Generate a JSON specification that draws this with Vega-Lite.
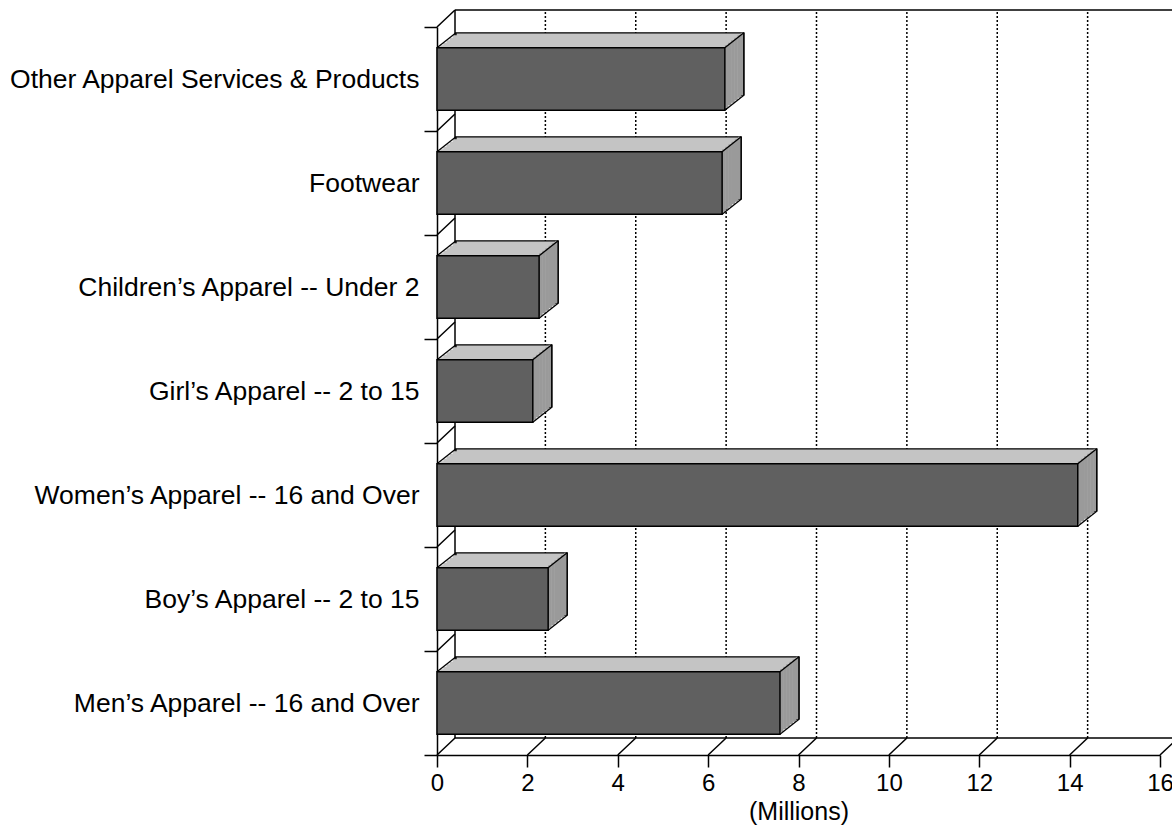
{
  "$schema": "https://vega.github.io/schema/vega-lite/v6.json",
  "width": 723,
  "height": 728,
  "autosize": {"type": "none"},
  "padding": {"left": 437, "top": 27, "right": 12, "bottom": 78},
  "background": "white",
  "config": {"view": {"stroke": null}, "font": "Liberation Sans"},
  "datasets": {
    "bars": [
      {"category": "Other Apparel Services & Products", "value": 6.37},
      {"category": "Footwear", "value": 6.31},
      {"category": "Children’s Apparel -- Under 2", "value": 2.26},
      {"category": "Girl’s Apparel -- 2 to 15", "value": 2.12},
      {"category": "Women’s Apparel -- 16 and Over", "value": 14.18},
      {"category": "Boy’s Apparel -- 2 to 15", "value": 2.46},
      {"category": "Men’s Apparel -- 16 and Over", "value": 7.59}
    ],
    "ticks": [{"v": 0}, {"v": 2}, {"v": 4}, {"v": 6}, {"v": 8}, {"v": 10}, {"v": 12}, {"v": 14}, {"v": 16}]
  },
  "data": {"name": "bars"},
  "layer": [
    {
      "data": {"name": "ticks"},
      "transform": [{"joinaggregate": [{"op": "missing", "field": "v", "as": "zero"}, {"op": "distinct", "field": "v", "as": "top"}]}],
      "layer": [
        {
          "transform": [{"filter": "datum.v > 0 && datum.v < 16"}],
          "mark": {"type": "rule", "color": "black", "strokeWidth": 1.5, "strokeDash": [2, 2], "xOffset": 18, "x2Offset": 18, "yOffset": -17, "y2Offset": -17},
          "encoding": {
            "x": {"field": "v", "type": "quantitative"},
            "y": {"field": "zero", "type": "quantitative", "scale": {"domain": [0, 9]}, "axis": null},
            "y2": {"field": "top"}
          }
        },
        {
          "transform": [{"filter": "datum.v == 0"}],
          "mark": {"type": "rule", "color": "black", "strokeWidth": 1.5, "xOffset": 18, "x2Offset": 18, "yOffset": -17, "y2Offset": -17},
          "encoding": {
            "x": {"field": "v", "type": "quantitative"},
            "y": {"field": "zero", "type": "quantitative", "scale": {"domain": [0, 9]}, "axis": null},
            "y2": {"field": "top"}
          }
        },
        {
          "mark": {"type": "rule", "color": "black", "strokeWidth": 1.5, "x2Offset": 18, "y2Offset": -17},
          "encoding": {
            "x": {"field": "v", "type": "quantitative"},
            "x2": {"field": "v"},
            "y": {"field": "zero", "type": "quantitative", "scale": {"domain": [0, 9]}, "axis": null},
            "y2": {"field": "zero"}
          }
        },
        {
          "mark": {"type": "rule", "color": "black", "strokeWidth": 1.5, "xOffset": 18, "x2Offset": 18, "yOffset": -17},
          "encoding": {
            "x": {"aggregate": "min", "field": "v", "type": "quantitative"},
            "x2": {"aggregate": "max", "field": "v"},
            "y": {"aggregate": "min", "field": "zero", "type": "quantitative", "scale": {"domain": [0, 9]}, "axis": null}
          }
        },
        {
          "mark": {"type": "rule", "color": "black", "strokeWidth": 1.5, "xOffset": 18, "x2Offset": 18, "yOffset": -17},
          "encoding": {
            "x": {"aggregate": "min", "field": "v", "type": "quantitative"},
            "x2": {"aggregate": "max", "field": "v"},
            "y": {"aggregate": "max", "field": "top", "type": "quantitative", "scale": {"domain": [0, 9]}, "axis": null}
          }
        }
      ]
    },
    {
      "layer": [
        {
          "transform": [{"joinaggregate": [{"op": "missing", "field": "value", "as": "zero"}]}],
          "mark": {"type": "rule", "color": "black", "strokeWidth": 1.5, "x2Offset": 18, "y2Offset": -17},
          "encoding": {
            "x": {"field": "zero", "type": "quantitative"},
            "x2": {"field": "zero"},
            "y": {"field": "category", "type": "nominal", "sort": null, "bandPosition": 0},
            "y2": {"field": "category", "bandPosition": 0}
          }
        },
        {"mark": {"type": "bar", "height": {"band": 0.6}, "fill": "#c4c4c4", "stroke": "black", "strokeWidth": 1.3, "xOffset": 19, "x2Offset": 19, "yOffset": -15, "y2Offset": -15},
         "encoding": {"x": {"field": "value", "type": "quantitative"}, "y": {"field": "category", "type": "nominal", "sort": null}}},
        {"mark": {"type": "bar", "height": {"band": 0.6}, "fill": "#c4c4c4", "xOffset": 3.1667, "x2Offset": 3.1667, "yOffset": -2.5, "y2Offset": -2.5},
         "encoding": {"x": {"field": "value", "type": "quantitative"}, "y": {"field": "category", "type": "nominal", "sort": null}}},
        {"mark": {"type": "bar", "height": {"band": 0.6}, "fill": "#c4c4c4", "xOffset": 6.3333, "x2Offset": 6.3333, "yOffset": -5, "y2Offset": -5},
         "encoding": {"x": {"field": "value", "type": "quantitative"}, "y": {"field": "category", "type": "nominal", "sort": null}}},
        {"mark": {"type": "bar", "height": {"band": 0.6}, "fill": "#c4c4c4", "xOffset": 9.5, "x2Offset": 9.5, "yOffset": -7.5, "y2Offset": -7.5},
         "encoding": {"x": {"field": "value", "type": "quantitative"}, "y": {"field": "category", "type": "nominal", "sort": null}}},
        {"mark": {"type": "bar", "height": {"band": 0.6}, "fill": "#c4c4c4", "xOffset": 12.6667, "x2Offset": 12.6667, "yOffset": -10, "y2Offset": -10},
         "encoding": {"x": {"field": "value", "type": "quantitative"}, "y": {"field": "category", "type": "nominal", "sort": null}}},
        {"mark": {"type": "bar", "height": {"band": 0.6}, "fill": "#c4c4c4", "xOffset": 15.8333, "x2Offset": 15.8333, "yOffset": -12.5, "y2Offset": -12.5},
         "encoding": {"x": {"field": "value", "type": "quantitative"}, "y": {"field": "category", "type": "nominal", "sort": null}}},
        {"mark": {"type": "bar", "height": {"band": 0.6}, "fill": "#9a9a9a", "xOffset": 0, "x2Offset": 3.4, "yOffset": -2.5, "y2Offset": -2.5},
         "encoding": {"x": {"field": "value", "type": "quantitative"}, "x2": {"field": "value"}, "y": {"field": "category", "type": "nominal", "sort": null}}},
        {"mark": {"type": "bar", "height": {"band": 0.6}, "fill": "#9a9a9a", "xOffset": 3.1667, "x2Offset": 6.6, "yOffset": -5, "y2Offset": -5},
         "encoding": {"x": {"field": "value", "type": "quantitative"}, "x2": {"field": "value"}, "y": {"field": "category", "type": "nominal", "sort": null}}},
        {"mark": {"type": "bar", "height": {"band": 0.6}, "fill": "#9a9a9a", "xOffset": 6.3333, "x2Offset": 9.8, "yOffset": -7.5, "y2Offset": -7.5},
         "encoding": {"x": {"field": "value", "type": "quantitative"}, "x2": {"field": "value"}, "y": {"field": "category", "type": "nominal", "sort": null}}},
        {"mark": {"type": "bar", "height": {"band": 0.6}, "fill": "#9a9a9a", "xOffset": 9.5, "x2Offset": 12.9, "yOffset": -10, "y2Offset": -10},
         "encoding": {"x": {"field": "value", "type": "quantitative"}, "x2": {"field": "value"}, "y": {"field": "category", "type": "nominal", "sort": null}}},
        {"mark": {"type": "bar", "height": {"band": 0.6}, "fill": "#9a9a9a", "xOffset": 12.6667, "x2Offset": 16.1, "yOffset": -12.5, "y2Offset": -12.5},
         "encoding": {"x": {"field": "value", "type": "quantitative"}, "x2": {"field": "value"}, "y": {"field": "category", "type": "nominal", "sort": null}}},
        {"mark": {"type": "bar", "height": {"band": 0.6}, "fill": "#9a9a9a", "xOffset": 15.8333, "x2Offset": 18.4, "yOffset": -15, "y2Offset": -15},
         "encoding": {"x": {"field": "value", "type": "quantitative"}, "x2": {"field": "value"}, "y": {"field": "category", "type": "nominal", "sort": null}}},
        {"mark": {"type": "rule", "color": "black", "strokeWidth": 1.3, "xOffset": 19, "yOffset": -15, "y2Offset": -15},
         "encoding": {"x": {"field": "value", "type": "quantitative"}, "y": {"field": "category", "type": "nominal", "sort": null, "bandPosition": 0.2}, "y2": {"field": "category", "bandPosition": 0.8}}},
        {"mark": {"type": "rule", "color": "black", "strokeWidth": 1.3, "x2Offset": 19, "y2Offset": -15},
         "encoding": {"x": {"field": "value", "type": "quantitative"}, "x2": {"field": "value"}, "y": {"field": "category", "type": "nominal", "sort": null, "bandPosition": 0.2}, "y2": {"field": "category", "bandPosition": 0.2}}},
        {"mark": {"type": "rule", "color": "black", "strokeWidth": 1.3, "x2Offset": 19, "y2Offset": -15},
         "encoding": {"x": {"field": "value", "type": "quantitative"}, "x2": {"field": "value"}, "y": {"field": "category", "type": "nominal", "sort": null, "bandPosition": 0.8}, "y2": {"field": "category", "bandPosition": 0.8}}},
        {
          "transform": [{"joinaggregate": [{"op": "missing", "field": "value", "as": "zero"}]}],
          "mark": {"type": "rule", "color": "black", "strokeWidth": 1.3, "x2Offset": 19, "y2Offset": -15},
          "encoding": {
            "x": {"field": "zero", "type": "quantitative"},
            "x2": {"field": "zero"},
            "y": {"field": "category", "type": "nominal", "sort": null, "bandPosition": 0.2},
            "y2": {"field": "category", "bandPosition": 0.2}
          }
        },
        {"mark": {"type": "bar", "height": {"band": 0.6}, "fill": "#606060", "stroke": "black", "strokeWidth": 1.5},
         "encoding": {
           "x": {"field": "value", "type": "quantitative",
                 "scale": {"domain": [0, 16], "nice": false},
                 "axis": {"orient": "bottom", "values": [0, 2, 4, 6, 8, 10, 12, 14, 16], "grid": false, "tickSize": 12, "tickWidth": 1.5, "tickColor": "black", "domainColor": "black", "domainWidth": 1.5, "labelFontSize": 24, "labelFont": "Liberation Sans", "labelColor": "black", "labelPadding": 4, "labelFlush": false, "title": "(Millions)", "titleFontSize": 25, "titleFont": "Liberation Sans", "titleFontWeight": "normal", "titleColor": "black", "titlePadding": 4}},
           "y": {"field": "category", "type": "nominal", "sort": null,
                 "scale": {"paddingInner": 0, "paddingOuter": 0},
                 "axis": {"orient": "left", "title": null, "tickBand": "extent", "tickSize": 13, "tickWidth": 1.5, "tickColor": "black", "domainColor": "black", "domainWidth": 1.5, "labelFontSize": 26.5, "labelFont": "Liberation Sans", "labelColor": "black", "labelPadding": 5, "labelLimit": 0, "grid": false}}
         }}
      ]
    }
  ],
  "resolve": {"scale": {"y": "independent"}}
}
